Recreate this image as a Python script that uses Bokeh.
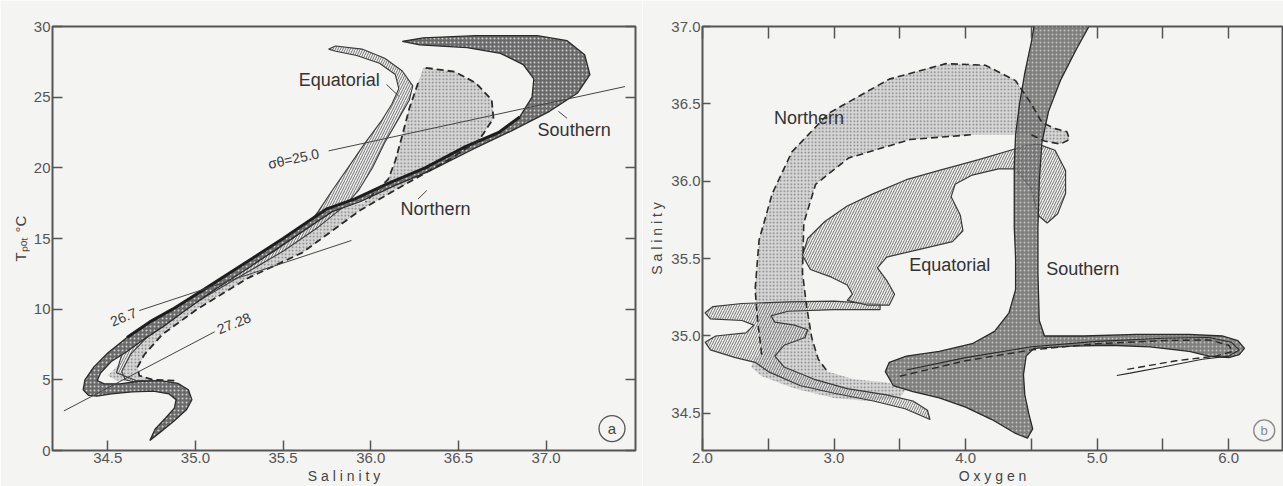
import math
from bokeh.plotting import figure
from bokeh.layouts import row
from bokeh.models import FixedTicker, LinearAxis, Range1d, NumeralTickFormatter, Title
from bokeh.embed import file_html
from bokeh.resources import INLINE
from bokeh.core.properties import value

FONT = "Liberation Sans"
BG = "#f4f4f2"
INK = "#3a3a3a"
AX = "#555555"

# ---------------- Panel a : T-S (salinity, potential temperature) ----------------
A_XTICKS = [34.5, 35.0, 35.5, 36.0, 36.5, 37.0]
A_YTICKS = [0, 5, 10, 15, 20, 25, 30]

# Southern envelope, side A (lower/right side) from bottom tip to top-left tip
A_SOUTH_A_S = [34.74, 34.80, 34.88, 34.95, 34.98, 34.96, 34.90, 34.80, 34.68, 34.57, 34.48, 34.44, 34.46, 34.52,
               34.61, 34.71, 34.82, 34.93, 35.10, 35.30, 35.54, 35.78, 35.94, 36.13, 36.34, 36.58, 36.80, 37.02,
               37.18, 37.25, 37.22, 37.12, 36.95, 36.60, 36.30, 36.18]
A_SOUTH_A_T = [0.7, 1.3, 2.1, 2.9, 3.6, 4.3, 4.75, 4.95, 4.9, 4.72, 4.72, 4.95, 5.5, 6.3,
               7.0, 7.9, 8.8, 9.8, 11.3, 12.9, 14.9, 16.9, 17.6, 18.7, 19.8, 21.3, 22.6, 24.0,
               25.3, 26.6, 28.0, 29.0, 29.35, 29.35, 29.2, 28.95]
# Southern envelope, side B (upper/left side, heavy line) from bottom tip to top-left tip
A_SOUTH_B_S = [34.74, 34.77, 34.83, 34.88, 34.89, 34.85, 34.76, 34.64, 34.52, 34.44, 34.39, 34.36, 34.37, 34.42,
               34.50, 34.61, 34.74, 34.87, 35.05, 35.25, 35.50, 35.75, 35.91, 36.10, 36.31, 36.54, 36.73, 36.85,
               36.92, 36.93, 36.87, 36.74, 36.55, 36.28, 36.18]
A_SOUTH_B_T = [0.7, 1.5, 2.3, 3.0, 3.6, 4.0, 4.2, 4.15, 4.0, 3.85, 3.9, 4.3, 5.0, 5.9,
               6.9, 8.0, 9.1, 10.0, 11.4, 13.0, 15.0, 17.1, 17.8, 18.9, 20.0, 21.5, 22.5, 23.6,
               25.0, 26.3, 27.3, 28.1, 28.5, 28.7, 28.95]

# Northern envelope: dashed right boundary (bottom -> top), dashed upper-left boundary, lower-left edge
A_NORTH_R_S = [34.88, 34.76, 34.68, 34.67, 34.71, 34.81, 35.01, 35.30, 35.61, 35.94, 36.22, 36.45, 36.62,
               36.70, 36.69, 36.60, 36.48, 36.30]
A_NORTH_R_T = [4.95, 5.0, 5.3, 5.9, 6.8, 8.2, 10.0, 12.2, 14.0, 17.0, 19.0, 20.6, 22.0,
               23.5, 24.8, 26.0, 26.8, 27.1]
A_NORTH_L_S = [36.27, 36.22, 36.18, 36.14, 36.10, 35.97]
A_NORTH_L_T = [26.0, 24.2, 22.3, 20.5, 19.2, 17.6]
A_NORTH_E_S = [35.78, 35.54, 35.30, 35.10, 34.93, 34.76, 34.63, 34.56, 34.50, 34.55, 34.70]
A_NORTH_E_T = [16.9, 14.9, 12.9, 11.3, 9.8, 8.3, 7.0, 6.0, 5.3, 4.95, 4.92]

# Equatorial envelope: right/outer boundary (top tip -> bottom), inner boundary (bottom -> top)
A_EQ_R_S = [35.76, 35.80, 35.95, 36.08, 36.18, 36.24, 36.22, 36.16, 36.08, 36.01, 35.93, 35.86, 35.70,
            35.50, 35.28, 35.06, 34.88, 34.73, 34.63, 34.58, 34.60, 34.70, 34.85]
A_EQ_R_T = [28.4, 28.62, 28.4, 27.75, 26.85, 25.8, 24.8, 23.5, 21.8, 20.0, 18.4, 17.4, 15.8,
            14.1, 12.5, 10.9, 9.5, 8.1, 6.8, 5.6, 5.0, 4.7, 4.72]
A_EQ_I_S = [34.80, 34.66, 34.55, 34.58, 34.68, 34.83, 35.01, 35.23, 35.45, 35.62, 35.70, 35.78, 35.87,
            35.97, 36.06, 36.12, 36.16, 36.14, 36.05, 35.92, 35.80]
A_EQ_I_T = [4.88, 4.95, 5.5, 6.8, 8.1, 9.5, 10.9, 12.5, 14.1, 15.6, 16.9, 18.4, 20.0,
            21.8, 23.3, 24.5, 25.6, 26.6, 27.4, 27.95, 28.25]

# isopycnals (sigma-theta) and their labels
A_ISO_S = [[35.76, 37.45], [34.68, 35.89], [34.25, 35.11]]
A_ISO_T = [[21.2, 25.75], [9.9, 14.86], [2.8, 8.4]]
A_ISO_LABEL = ["σθ=25.0", "26.7", "27.28"]
A_ISO_LABEL_S = [35.56, 34.59, 35.22]
A_ISO_LABEL_T = [20.65, 9.45, 9.0]
A_ISO_LABEL_ANG = [12, 22, 22]

A_NAMES = ["Equatorial", "Southern", "Northern"]
A_NAME_S = [35.82, 37.16, 36.37]
A_NAME_T = [26.24, 22.7, 17.1]
A_POINT_S = [[36.09, 36.16], [37.12, 37.07], [36.27, 36.32]]
A_POINT_T = [[25.9, 25.07], [23.5, 24.0], [17.8, 18.4]]

# ---------------- Panel b : Oxygen - Salinity ----------------
B_XTICKS = [2.0, 3.0, 4.0, 5.0, 6.0]
B_XMINOR = [2.5, 3.5, 4.5, 5.5]
B_YTICKS = [34.5, 35.0, 35.5, 36.0, 36.5, 37.0]

B_NORTH_OUT_O = [2.45, 2.42, 2.40, 2.43, 2.53, 2.68, 2.96, 3.42, 3.85, 4.15, 4.38, 4.50, 4.58, 4.68, 4.77,
                 4.79, 4.72, 4.60, 4.50]
B_NORTH_OUT_S = [34.88, 35.09, 35.30, 35.62, 35.92, 36.19, 36.44, 36.66, 36.76, 36.75, 36.65, 36.50, 36.38,
                 36.34, 36.32, 36.27, 36.24, 36.26, 36.30]
B_NORTH_IN_O = [4.04, 3.58, 3.11, 2.86, 2.77, 2.76, 2.79, 2.83, 2.88, 2.95, 3.15, 3.40, 3.55, 3.50, 3.25,
                3.00, 2.70, 2.45, 2.37, 2.40]
B_NORTH_IN_S = [36.30, 36.27, 36.15, 35.98, 35.73, 35.41, 35.20, 34.99, 34.85, 34.77, 34.72, 34.70, 34.66,
                34.60, 34.58, 34.60, 34.66, 34.74, 34.80, 34.86]

B_EQ1_O = [4.38, 4.10, 3.80, 3.55, 3.30, 3.10, 2.93, 2.80, 2.76, 2.82, 2.98, 3.10, 3.14, 3.10, 3.25, 3.42,
           3.46, 3.40, 3.33, 3.40, 3.65, 3.90, 3.98, 3.96, 3.89, 3.92, 4.05, 4.25, 4.38, 4.50, 4.55, 4.62,
           4.70, 4.76, 4.76, 4.68, 4.55, 4.45]
B_EQ1_S = [36.21, 36.14, 36.07, 36.01, 35.92, 35.84, 35.74, 35.63, 35.52, 35.43, 35.38, 35.33, 35.27, 35.23,
           35.20, 35.20, 35.27, 35.36, 35.44, 35.51, 35.56, 35.61, 35.68, 35.78, 35.90, 35.98, 36.04, 36.08,
           36.08, 35.95, 35.78, 35.73, 35.79, 35.92, 36.07, 36.20, 36.24, 36.23]
B_EQ2_O = [3.35, 3.00, 2.65, 2.30, 2.08, 2.02, 2.06, 2.30, 2.39, 2.33, 2.10, 2.02, 2.06, 2.25, 2.40, 2.50,
           2.74, 3.00, 3.30, 3.54, 3.73, 3.71, 3.60, 3.40, 3.10, 2.85, 2.62, 2.55, 2.62, 2.78, 2.80, 2.70,
           2.55, 2.52, 2.65, 3.00, 3.35]
B_EQ2_S = [35.205, 35.225, 35.22, 35.21, 35.19, 35.15, 35.11, 35.10, 35.07, 35.02, 35.00, 34.96, 34.91,
           34.86, 34.83, 34.77, 34.68, 34.63, 34.58, 34.53, 34.46, 34.52, 34.58, 34.62, 34.66, 34.72, 34.80,
           34.87, 34.94, 34.99, 35.04, 35.07, 35.09, 35.13, 35.16, 35.17, 35.17]

B_SOUTH_O = [4.53, 4.50, 4.45, 4.41, 4.38, 4.37, 4.37, 4.37, 4.38, 4.38, 4.33, 4.22, 4.05, 3.80, 3.55, 3.42,
             3.39, 3.45, 3.60, 3.80, 4.00, 4.20, 4.38, 4.47, 4.51, 4.48, 4.45, 4.44, 4.46, 4.52, 4.80, 5.10,
             5.40, 5.70, 5.85, 6.00, 6.08, 6.12, 6.07, 5.95, 5.70, 5.30, 4.90, 4.60, 4.56, 4.55, 4.55, 4.56,
             4.58, 4.63, 4.72, 4.84, 4.97]
B_SOUTH_S = [37.05, 36.90, 36.70, 36.50, 36.30, 36.10, 35.90, 35.70, 35.50, 35.30, 35.15, 35.03, 34.95, 34.90,
             34.87, 34.83, 34.77, 34.68, 34.64, 34.60, 34.54, 34.46, 34.37, 34.34, 34.40, 34.50, 34.62, 34.75,
             34.87, 34.92, 34.935, 34.94, 34.93, 34.90, 34.87, 34.86, 34.88, 34.92, 34.97, 35.00, 35.01, 35.01,
             35.00, 35.00, 35.10, 35.40, 35.70, 36.00, 36.25, 36.45, 36.65, 36.85, 37.05]

B_TONGUE_EQ_O = [3.55, 4.00, 4.50, 5.00, 5.50, 5.85, 6.02, 6.08, 6.00, 5.80, 5.50, 5.25, 5.15]
B_TONGUE_EQ_S = [34.78, 34.86, 34.93, 34.965, 34.985, 34.99, 34.96, 34.91, 34.87, 34.85, 34.80, 34.76, 34.745]
B_TONGUE_N_O = [3.50, 4.00, 4.50, 5.00, 5.50, 5.85, 6.00, 6.03, 5.90, 5.60, 5.40, 5.20]
B_TONGUE_N_S = [34.74, 34.84, 34.91, 34.95, 34.97, 34.975, 34.94, 34.90, 34.87, 34.84, 34.81, 34.78]

B_NAMES = ["Northern", "Equatorial", "Southern"]
B_NAME_O = [2.81, 3.88, 4.89]
B_NAME_S = [36.41, 35.46, 35.43]


def style(p):
    p.background_fill_color = BG
    p.border_fill_color = BG
    p.outline_line_color = AX
    p.outline_line_width = 2
    p.xgrid.visible = False
    p.ygrid.visible = False


def style_axis(ax, ticks, minor=None, labels=True, fmt=None, tick_len=10):
    ax.ticker = FixedTicker(ticks=ticks, minor_ticks=minor or [])
    ax.axis_line_color = None
    ax.major_tick_in = tick_len
    ax.major_tick_out = 0
    ax.minor_tick_in = tick_len if minor else 0
    ax.minor_tick_out = 0
    ax.major_tick_line_color = AX
    ax.major_tick_line_width = 1.5
    ax.minor_tick_line_color = AX
    ax.minor_tick_line_width = 1.5
    ax.major_label_text_font = FONT
    ax.major_label_text_color = "#555555"
    ax.major_label_standoff = 2
    if labels:
        ax.major_label_text_font_size = "15px"
        if fmt:
            ax.formatter = NumeralTickFormatter(format=fmt)
    else:
        ax.major_label_text_font_size = "1px"
        ax.major_label_text_color = None
        ax.major_label_standoff = 0


def axis_title(p, text, side, offset, standoff=0, size="14px"):
    p.add_layout(Title(text=text, align="center", offset=offset, standoff=standoff,
                       text_font=FONT, text_font_size=size, text_font_style="normal",
                       text_color="#444444"), side)


# ---------------- figure a ----------------
p1 = figure(width=642, height=486, x_range=Range1d(34.185, 37.51), y_range=Range1d(0, 30),
            output_backend="svg", toolbar_location=None, title=None,
            min_border_left=52, min_border_right=7, min_border_top=26, min_border_bottom=35)
style(p1)
style_axis(p1.xaxis[0], A_XTICKS, fmt="0.0")
style_axis(p1.yaxis[0], A_YTICKS)
ra = LinearAxis()
p1.add_layout(ra, "right")
style_axis(ra, A_YTICKS, labels=False)
axis_title(p1, "S a l i n i t y", "below", -26)
axis_title(p1, "Tₚₒₜ °C", "left", 6, standoff=4, size="15px")

north_a_x = A_NORTH_R_S + A_NORTH_L_S + A_NORTH_E_S
north_a_y = A_NORTH_R_T + A_NORTH_L_T + A_NORTH_E_T
p1.patch(north_a_x, north_a_y, fill_color="#d6d6d6", line_color=None,
         hatch_pattern="dot", hatch_color="#7d7d7d", hatch_scale=3.5, hatch_weight=0.8)

eq_a_x = A_EQ_R_S + A_EQ_I_S
eq_a_y = A_EQ_R_T + A_EQ_I_T
p1.patch(eq_a_x, eq_a_y, fill_color="#eeeeee", fill_alpha=0.9, line_color=INK, line_width=1.1,
         hatch_pattern="right_diagonal_line", hatch_color="#555555", hatch_scale=5, hatch_weight=0.8)

south_a_x = A_SOUTH_A_S + A_SOUTH_B_S[-2:0:-1]
south_a_y = A_SOUTH_A_T + A_SOUTH_B_T[-2:0:-1]
p1.patch(south_a_x, south_a_y, fill_color="#6a6a6a", line_color="#2a2a2a", line_width=1.3,
         hatch_pattern="dot", hatch_color="#cfcfcf", hatch_scale=4, hatch_weight=1.3)
p1.line(A_SOUTH_B_S[15:28], A_SOUTH_B_T[15:28], line_color="#1e1e1e", line_width=3)

p1.multi_line([A_NORTH_R_S, A_NORTH_L_S], [A_NORTH_R_T, A_NORTH_L_T], line_color="#2a2a2a",
              line_width=1.8, line_dash="7 4")

p1.multi_line(A_ISO_S, A_ISO_T, line_color="#444444", line_width=1)
p1.multi_line(A_POINT_S, A_POINT_T, line_color="#444444", line_width=1)
for i in range(len(A_ISO_LABEL)):
    p1.text([A_ISO_LABEL_S[i]], [A_ISO_LABEL_T[i]], text=[A_ISO_LABEL[i]], angle=A_ISO_LABEL_ANG[i],
            angle_units="deg", text_font=value(FONT), text_font_size=value("14px"), text_color="#3a3a3a",
            text_align="center", text_baseline="middle")
p1.text(A_NAME_S, A_NAME_T, text=A_NAMES, text_font=value(FONT), text_font_size=value("18px"),
        text_color="#333333", text_align="center", text_baseline="middle")
p1.scatter([37.376], [1.55], marker="circle", size=26, fill_color=None, line_color="#555555", line_width=1.3)
p1.text([37.376], [1.55], text=["a"], text_font=value(FONT), text_font_size=value("15px"),
        text_color="#444444", text_align="center", text_baseline="middle")

# ---------------- figure b ----------------
p2 = figure(width=641, height=486, x_range=Range1d(2.0, 6.409), y_range=Range1d(34.26, 37.0),
            output_backend="svg", toolbar_location=None, title=None,
            min_border_left=58, min_border_right=1, min_border_top=15, min_border_bottom=36)
style(p2)
style_axis(p2.xaxis[0], B_XTICKS, minor=B_XMINOR, fmt="0.0", tick_len=12)
style_axis(p2.yaxis[0], B_YTICKS, fmt="0.0", tick_len=8)
ta = LinearAxis()
p2.add_layout(ta, "above")
style_axis(ta, B_XTICKS, minor=B_XMINOR, labels=False, tick_len=12)
axis_title(p2, "O x y g e n", "below", -30)
axis_title(p2, "S a l i n i t y", "left", -20, standoff=8)

p2.patch(B_NORTH_OUT_O + B_NORTH_IN_O, B_NORTH_OUT_S + B_NORTH_IN_S, fill_color="#d6d6d6", line_color=None,
         hatch_pattern="dot", hatch_color="#7d7d7d", hatch_scale=3.5, hatch_weight=0.8)
p2.patch(B_EQ2_O, B_EQ2_S, fill_color="#eeeeee", fill_alpha=0.6, line_color=INK, line_width=1.2,
         hatch_pattern="right_diagonal_line", hatch_color="#555555", hatch_scale=5, hatch_weight=0.8)
p2.patch(B_EQ1_O, B_EQ1_S, fill_color="#eeeeee", fill_alpha=0.6, line_color=INK, line_width=1.2,
         hatch_pattern="right_diagonal_line", hatch_color="#555555", hatch_scale=5, hatch_weight=0.8)
p2.patch(B_SOUTH_O, B_SOUTH_S, fill_color="#6a6a6a", fill_alpha=0.85, line_color="#2a2a2a", line_width=1.3,
         hatch_pattern="dot", hatch_color="#cfcfcf", hatch_scale=4, hatch_weight=1.3, hatch_alpha=0.85)
p2.multi_line([B_NORTH_OUT_O, B_NORTH_IN_O[:10]], [B_NORTH_OUT_S, B_NORTH_IN_S[:10]], line_color="#2a2a2a",
              line_width=1.6, line_dash="7 4")
p2.line(B_TONGUE_EQ_O, B_TONGUE_EQ_S, line_color="#2a2a2a", line_width=1.1)
p2.line(B_TONGUE_N_O, B_TONGUE_N_S, line_color="#2a2a2a", line_width=1.4, line_dash="7 4")
p2.text(B_NAME_O, B_NAME_S, text=B_NAMES, text_font=value(FONT), text_font_size=value("18px"),
        text_color="#333333", text_align="center", text_baseline="middle")
p2.scatter([6.27], [34.39], marker="circle", size=21, fill_color=None, line_color="#888888", line_width=1.3)
p2.text([6.27], [34.39], text=["b"], text_font=value(FONT), text_font_size=value("13px"),
        text_color="#888888", text_align="center", text_baseline="middle")

layout = row(p1, p2)
open("out.html", "w").write(file_html(layout, INLINE))
